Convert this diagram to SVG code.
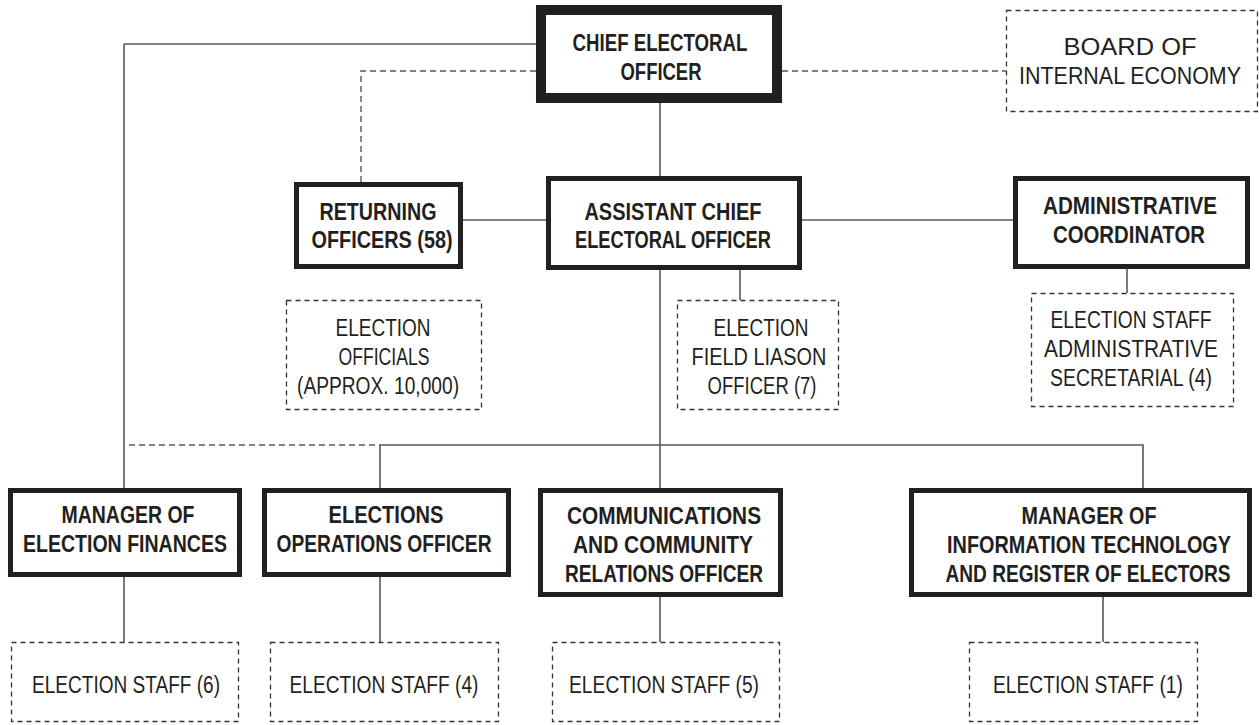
<svg xmlns="http://www.w3.org/2000/svg" width="1259" height="725" viewBox="0 0 1259 725">
<style>
.bg{fill:#fff}
.thick{fill:#fff;stroke:#231f20;stroke-width:5}
.ceo{fill:#fff;stroke:#231f20;stroke-width:10}
.dbox{fill:#fff;stroke:#333;stroke-width:1.3;stroke-dasharray:5,4}
.line{fill:none;stroke:#58585a;stroke-width:1.6}
.dline{fill:none;stroke:#58585a;stroke-width:1.4;stroke-dasharray:6,4}
text{font-family:"Liberation Sans Narrow","Arial Narrow","Liberation Sans",sans-serif;font-size:24px;fill:#231f20;text-anchor:middle;transform:scale(0.82,1);transform-origin:0 0}
.b{font-weight:bold}
</style>
<rect class="bg" x="0" y="0" width="1259" height="725"/>
<g id="connectors">
<path class="line" d="M124,44 H536 M124,44 V488"/>
<path class="dline" d="M536,71 H361 V182"/>
<path class="dline" d="M782,71 H1006"/>
<path class="line" d="M660,103 V176"/>
<path class="line" d="M463,220 H546 M802,220 H1013"/>
<path class="line" d="M1127,269 V293"/>
<path class="line" d="M740,270 V300"/>
<path class="line" d="M660,270 V488"/>
<path class="dline" d="M129,445 H380"/>
<path class="line" d="M380,445 H1143 V488 M380,445 V488"/>
<path class="line" d="M124,577 V642 M380,577 V642 M660,597 V642 M1103,597 V642"/>
</g>
<g id="ceo"><rect class="ceo" x="541" y="10" width="236" height="88"/>
<text class="b" x="804.9" y="51" textLength="213.4" lengthAdjust="spacingAndGlyphs">CHIEF ELECTORAL</text><text class="b" x="806.1" y="80" textLength="98.8" lengthAdjust="spacingAndGlyphs">OFFICER</text></g>
<g id="board"><rect class="dbox" x="1006.5" y="10.5" width="251" height="101"/>
<text x="1378.1" y="55" textLength="162.2" lengthAdjust="spacingAndGlyphs">BOARD OF</text><text x="1378.1" y="84" textLength="270.7" lengthAdjust="spacingAndGlyphs">INTERNAL ECONOMY</text></g>
<g id="returning"><rect class="thick" x="296.5" y="184.5" width="164" height="82"/>
<text class="b" x="461" y="220" textLength="142.7" lengthAdjust="spacingAndGlyphs">RETURNING</text><text class="b" x="465.9" y="248" textLength="172" lengthAdjust="spacingAndGlyphs">OFFICERS (58)</text></g>
<g id="aceo"><rect class="thick" x="548.5" y="178.5" width="251" height="89"/>
<text class="b" x="820.7" y="220" textLength="215.9" lengthAdjust="spacingAndGlyphs">ASSISTANT CHIEF</text><text class="b" x="820.7" y="248" textLength="239" lengthAdjust="spacingAndGlyphs">ELECTORAL OFFICER</text></g>
<g id="admin"><rect class="thick" x="1015.5" y="178.5" width="232" height="88"/>
<text class="b" x="1378.1" y="214" textLength="212.2" lengthAdjust="spacingAndGlyphs">ADMINISTRATIVE</text><text class="b" x="1376.8" y="243" textLength="185.4" lengthAdjust="spacingAndGlyphs">COORDINATOR</text></g>
<g id="officials"><rect class="dbox" x="286.5" y="300.5" width="195" height="109"/>
<text x="467.1" y="336" textLength="115.9" lengthAdjust="spacingAndGlyphs">ELECTION</text><text x="468.3" y="365" textLength="111" lengthAdjust="spacingAndGlyphs">OFFICIALS</text><text x="461" y="394" textLength="197.6" lengthAdjust="spacingAndGlyphs">(APPROX. 10,000)</text></g>
<g id="liason"><rect class="dbox" x="677.5" y="300.5" width="161" height="109"/>
<text x="928.1" y="336" textLength="115.9" lengthAdjust="spacingAndGlyphs">ELECTION</text><text x="925.6" y="365" textLength="164.6" lengthAdjust="spacingAndGlyphs">FIELD LIASON</text><text x="929.3" y="394" textLength="132.9" lengthAdjust="spacingAndGlyphs">OFFICER (7)</text></g>
<g id="adminsec"><rect class="dbox" x="1031.5" y="293.5" width="202" height="113"/>
<text x="1379.3" y="328" textLength="196.3" lengthAdjust="spacingAndGlyphs">ELECTION STAFF</text><text x="1379.3" y="357" textLength="212.2" lengthAdjust="spacingAndGlyphs">ADMINISTRATIVE</text><text x="1379.3" y="386" textLength="197.6" lengthAdjust="spacingAndGlyphs">SECRETARIAL (4)</text></g>
<g id="finances"><rect class="thick" x="10.5" y="490.5" width="229" height="84"/>
<text class="b" x="156.1" y="523" textLength="162.2" lengthAdjust="spacingAndGlyphs">MANAGER OF</text><text class="b" x="152.4" y="552" textLength="248.8" lengthAdjust="spacingAndGlyphs">ELECTION FINANCES</text></g>
<g id="operations"><rect class="thick" x="264.5" y="490.5" width="244" height="84"/>
<text class="b" x="470.7" y="523" textLength="140.2" lengthAdjust="spacingAndGlyphs">ELECTIONS</text><text class="b" x="468.3" y="552" textLength="262.2" lengthAdjust="spacingAndGlyphs">OPERATIONS OFFICER</text></g>
<g id="communications"><rect class="thick" x="540.5" y="490.5" width="240" height="104"/>
<text class="b" x="809.8" y="524" textLength="236.6" lengthAdjust="spacingAndGlyphs">COMMUNICATIONS</text><text class="b" x="808.5" y="553" textLength="219.5" lengthAdjust="spacingAndGlyphs">AND COMMUNITY</text><text class="b" x="809.8" y="582" textLength="241.5" lengthAdjust="spacingAndGlyphs">RELATIONS OFFICER</text></g>
<g id="it"><rect class="thick" x="911.5" y="490.5" width="338" height="104"/>
<text class="b" x="1328.1" y="524" textLength="164.6" lengthAdjust="spacingAndGlyphs">MANAGER OF</text><text class="b" x="1328.1" y="553" textLength="346.3" lengthAdjust="spacingAndGlyphs">INFORMATION TECHNOLOGY</text><text class="b" x="1326.8" y="582" textLength="347.6" lengthAdjust="spacingAndGlyphs">AND REGISTER OF ELECTORS</text></g>
<g id="staff6"><rect class="dbox" x="11.5" y="642.5" width="227" height="79"/><text x="153.7" y="693" textLength="229.3" lengthAdjust="spacingAndGlyphs">ELECTION STAFF (6)</text></g>
<g id="staff4"><rect class="dbox" x="270.5" y="642.5" width="228" height="79"/><text x="468.3" y="693" textLength="230.5" lengthAdjust="spacingAndGlyphs">ELECTION STAFF (4)</text></g>
<g id="staff5"><rect class="dbox" x="552.5" y="642.5" width="227" height="79"/><text x="809.8" y="693" textLength="231.7" lengthAdjust="spacingAndGlyphs">ELECTION STAFF (5)</text></g>
<g id="staff1"><rect class="dbox" x="969.5" y="642.5" width="228" height="79"/><text x="1326.8" y="693" textLength="231.7" lengthAdjust="spacingAndGlyphs">ELECTION STAFF (1)</text></g>
</svg>
